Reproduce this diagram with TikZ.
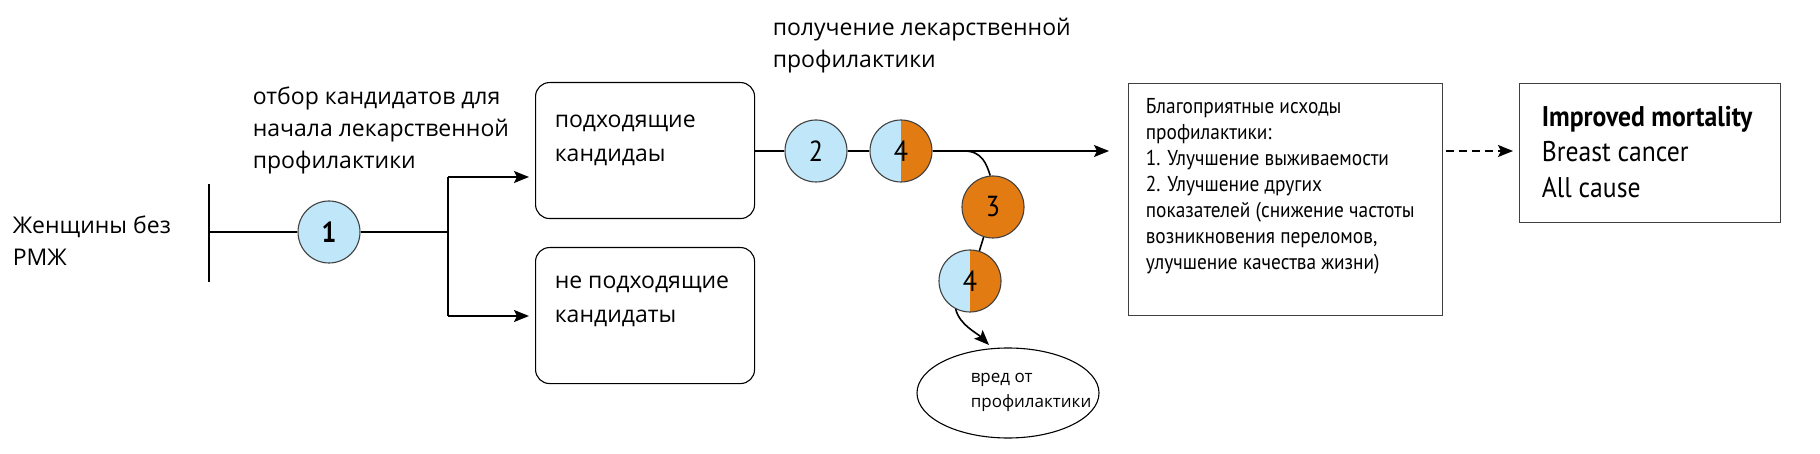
\documentclass[tikz,border=0pt]{standalone}
\usepackage{fontspec}
\setmainfont{Open Sans}
\newfontfamily\narrowfont[FakeStretch=0.9]{PT Sans}
\usepackage{xcolor}
\usetikzlibrary{arrows.meta,shapes.geometric}
\definecolor{cblue}{RGB}{191,231,249}
\definecolor{corange}{RGB}{226,124,18}

\begin{document}
\begin{tikzpicture}[x=1pt, y=-1pt, line width=1.6pt,
  >={Stealth[length=15pt,width=12pt,inset=3pt]},
  every node/.style={inner sep=0pt},
  lbl/.style={anchor=west, align=left, font=\fontsize{23}{32}\selectfont},
  cand/.style={draw, line width=1.1pt, rounded corners=14pt, anchor=north west, minimum width=219pt, minimum height=136pt},
  outbox/.style={draw=black!75, line width=1.1pt, anchor=north west},
  num/.style={circle, draw=black!75, line width=1.1pt, minimum size=62pt, font=\narrowfont\fontsize{29}{29}\selectfont},
  bluenum/.style={num, fill=cblue},
  orangenum/.style={num, fill=corange},
  halfnum/.style={num, path picture={
    \fill[cblue] (path picture bounding box.south west) rectangle (path picture bounding box.north);
    \fill[corange] (path picture bounding box.south) rectangle (path picture bounding box.north east);}}]
\useasboundingbox (0,0) rectangle (1820,454);

% texts
\node[lbl] (women) at (12,241) {Женщины без\\РМЖ};
\node[lbl] (select) at (252,130) {отбор кандидатов для\\начала лекарственной\\профилактики};
\node[lbl] (receive) at (772,46) {получение лекарственной\\профилактики};

% candidates
\node[cand] (fit) at (535,82) {};
\node[cand] (unfit) at (535,247) {};
\node[lbl, font=\fontsize{23}{34}\selectfont] (fitt) at (554,140) {подходящие\\кандидаы};
\node[lbl, font=\fontsize{23}{34}\selectfont] (unfitt) at (554,301) {не подходящие\\кандидаты};

% circles
\node[bluenum, font=\narrowfont\bfseries\fontsize{29}{29}\selectfont] (c1) at (329,232) {1};
\node[bluenum] (c2) at (816,151) {2};
\node[halfnum] (c4a) at (901,151) {4};
\node[orangenum] (c3) at (993,207) {3};
\node[halfnum] (c4b) at (970,281) {4};

% harms
\node[ellipse, draw, line width=1.1pt, minimum width=182pt, minimum height=90pt] (harm) at (1008,393) {};
\node[anchor=west, align=left, font=\fontsize{17}{25}\selectfont] (harmt) at (970,392) {вред от\\профилактики};

% outcomes
\node[outbox, minimum width=314pt, minimum height=232pt] (good) at (1128,83) {};
\node[anchor=west, align=left, font=\narrowfont\fontsize{21.5}{26}\selectfont] (goodt) at (1145,186) {Благоприятные исходы\\профилактики:\\1. Улучшение выживаемости\\2. Улучшение других\\показателей (снижение частоты\\возникновения переломов,\\улучшение качества жизни)};
\node[outbox, minimum width=261pt, minimum height=139pt] (mort) at (1519,83) {};
\node[anchor=west, align=left, font=\narrowfont\fontsize{28.5}{35.5}\selectfont] (mortt) at (1541,152) {\textbf{Improved mortality}\\Breast cancer\\All cause};

% connectors
\coordinate (bartop) at (209,184);
\coordinate (barbot) at (209,282);
\coordinate (barmid) at (209,232);
\coordinate (fork) at (448,232);
\coordinate (forkup) at (448,177);
\coordinate (forkdn) at (448,316);
\coordinate (mainend) at (1109,151);
\coordinate (bend) at (964,151);
\coordinate (harmtip) at (989,345);
\draw (bartop)--(barbot);
\draw (barmid)--(c1)--(fork);
\draw (forkup)--(forkdn);
\draw[->, shorten >=6pt] (forkup)--(forkup -| fit.west);
\draw[->, shorten >=6pt] (forkdn)--(forkdn -| unfit.west);
\draw (fit.east |- c2)--(c2)--(c4a);
\draw[->] (c4a)--(mainend);
\draw (bend) .. controls +(18,0) and +(-4,-12) .. (c3.95);
\draw (c3)--(c4b);
\draw[->] (c4b.243) .. controls +(4,16) and +(-12,-12) .. (harmtip);
\draw[->, dash pattern=on 8pt off 5pt, shorten <=3pt, shorten >=6pt] (good.east |- c4a)--(mort.west |- c4a);
\end{tikzpicture}
\end{document}
